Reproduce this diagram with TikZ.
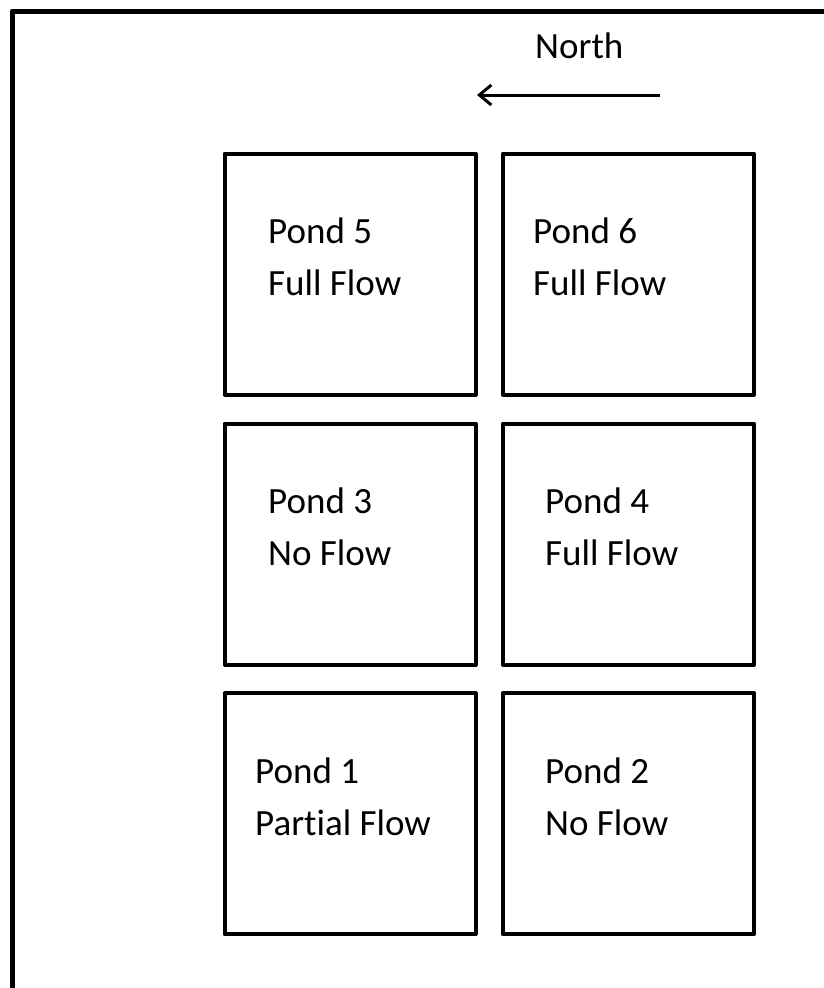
\documentclass[tikz,border=0pt]{standalone}
\usepackage{fontspec}
\setmainfont[Ligatures=NoCommon]{Carlito}
\usetikzlibrary{arrows.meta}
\newcommand{\pondtext}[2]{\vtop{\baselineskip=52pt\hbox{#1}\hbox{#2}}}
\tikzset{
  pond/.style={draw, line width=4pt, line join=round, rectangle, minimum width=251pt, minimum height=241pt, inner sep=0pt},
  pondlabel/.style={anchor=base west, inner sep=0pt, font=\fontsize{37pt}{52pt}\selectfont},
  frame/.style={line width=5pt, line join=round}
}
\begin{document}
\begin{tikzpicture}[x=1pt,y=-1pt]
\useasboundingbox (0,0) rectangle (824,988);
% outer frame (only top and left edges visible)
\coordinate (fbl) at (12,1000);
\coordinate (ftl) at (12,11);
\coordinate (ftr) at (840,11);
\draw[frame] (fbl) -- (ftl) -- (ftr);
% north arrow
\node[pondlabel] (north) at (535,58) {North};
\coordinate (arrs) at (660,95);
\coordinate (arre) at (477,95);
\draw[line width=3pt, -{Straight Barb[length=12pt,width=20pt]}] (arrs) -- (arre);
% ponds
\node[pond] (p5) at (350,274) {};
\node[pond] (p6) at (628.5,274) {};
\node[pond] (p3) at (350,544) {};
\node[pond] (p4) at (628.5,544) {};
\node[pond] (p1) at (350,813.75) {};
\node[pond] (p2) at (628.5,813.75) {};
% labels
\node[pondlabel] (t5) at (268,243) {\pondtext{Pond 5}{Full Flow}};
\node[pondlabel] (t6) at (533,243) {\pondtext{Pond 6}{Full Flow}};
\node[pondlabel] (t3) at (268,513) {\pondtext{Pond 3}{No Flow}};
\node[pondlabel] (t4) at (545,513) {\pondtext{Pond 4}{Full Flow}};
\node[pondlabel] (t1) at (255,783) {\pondtext{Pond 1}{Partial Flow}};
\node[pondlabel] (t2) at (545,783) {\pondtext{Pond 2}{No Flow}};
\end{tikzpicture}
\end{document}
